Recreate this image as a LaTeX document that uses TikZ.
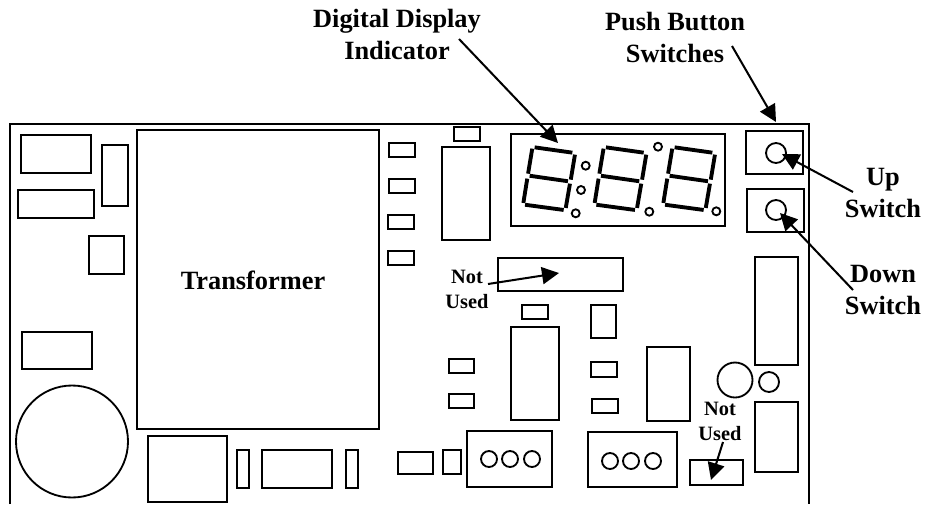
\documentclass[tikz,border=0pt]{standalone}
\usepackage{fontspec}
\setmainfont{Liberation Serif}
\usetikzlibrary{arrows.meta}

\tikzset{
  board/.style={line width=1.25pt},
  part/.style={line width=1.05pt},
  segment/.style={line width=2.2pt,shorten <=0.2pt,shorten >=0.2pt},
  pointer/.style={line width=1.15pt,-{Triangle[length=0.34cm,width=0.34cm]}},
  bigtext/.style={font=\bfseries\fontsize{15}{17.9}\selectfont,align=center,inner sep=0pt,anchor=base},
  smalltext/.style={font=\bfseries\fontsize{11.6}{13.8}\selectfont,align=center,inner sep=0pt,anchor=base}
}

\begin{document}
\begin{tikzpicture}[x=0.02cm,y=-0.02cm]
  \useasboundingbox (0,0) rectangle (925,504);

  \draw[board] (10,504) -- (10,124) -- (809,124) -- (809,504);

  % left side
  \draw[part] (21,135) rectangle (91,173);
  \draw[part] (102,145) rectangle (128,206);
  \draw[part] (18,190) rectangle (94,218);
  \draw[part] (89,236) rectangle (124,274);
  \draw[part] (22,332) rectangle (92,369);
  \draw[part] (72,441.5) circle (56);
  \draw[part] (137,130) rectangle (379,429);

  % bottom row
  \draw[part] (148,436) rectangle (227,502);
  \draw[part] (237,450) rectangle (249,488);
  \draw[part] (262,450) rectangle (332,488);
  \draw[part] (346,450) rectangle (358,488);
  \draw[part] (398,452) rectangle (433,474);
  \draw[part] (443,450) rectangle (461,474);

  % small parts beside the transformer
  \draw[part] (389,143) rectangle (415,157);
  \draw[part] (389,179) rectangle (415,193);
  \draw[part] (388,215) rectangle (414,229);
  \draw[part] (388,251) rectangle (414,265);
  \draw[part] (454,127) rectangle (480,141);
  \draw[part] (442,147) rectangle (490,240);

  % middle
  \draw[part] (498,258) rectangle (623,291);
  \draw[part] (522,305) rectangle (548,319);
  \draw[part] (591,305) rectangle (616,338);
  \draw[part] (449,359) rectangle (474,373);
  \draw[part] (449,394) rectangle (474,408);
  \draw[part] (511,327) rectangle (559,420);
  \draw[part] (591,362) rectangle (617,377);
  \draw[part] (592,399) rectangle (618,413);

  % connectors
  \draw[part] (467,431) rectangle (552,487);
  \draw[part] (489,459) circle (8);
  \draw[part] (510,459) circle (8);
  \draw[part] (532,459) circle (8);
  \draw[part] (588,432) rectangle (677,487);
  \draw[part] (610,461) circle (8);
  \draw[part] (631,461) circle (8);
  \draw[part] (653,461) circle (8);

  % right side
  \draw[part] (647,347) rectangle (690,421);
  \draw[part] (755,257) rectangle (798,365);
  \draw[part] (755,402) rectangle (798,472);
  \draw[part] (690,460) rectangle (743,485);
  \draw[part] (735,380) circle (17.5);
  \draw[part] (769,382) circle (10);

  % switches
  \draw[part] (746,131) rectangle (803,174);
  \draw[part] (747,189) rectangle (804,232);
  \draw[part] (776,153) circle (10);
  \draw[part] (776,210) circle (10);

  % display
  \draw[part] (511,134) rectangle (725,226);

  \draw[segment] (534.3,147.3) -- (572.7,152.7);
  \draw[segment] (532.3,148.3) -- (528,174);
  \draw[segment] (575,154.3) -- (570.7,180);
  \draw[segment] (529.3,175.7) -- (568.3,181.3);
  \draw[segment] (527.3,178.3) -- (523.3,203.3);
  \draw[segment] (570,183.3) -- (565.7,208.3);
  \draw[segment] (524.7,204.7) -- (564,210);

  \draw[segment] (605.6,147.3) -- (644,152.7);
  \draw[segment] (603.6,148.3) -- (599.3,174);
  \draw[segment] (646.3,154.3) -- (642,180);
  \draw[segment] (600.6,175.7) -- (639.6,181.3);
  \draw[segment] (598.6,178.3) -- (594.6,203.3);
  \draw[segment] (641.3,183.3) -- (637,208.3);
  \draw[segment] (596,204.7) -- (635.3,210);

  \draw[segment] (674.3,147.3) -- (712.7,152.7);
  \draw[segment] (672.3,148.3) -- (668,174);
  \draw[segment] (715,154.3) -- (710.7,180);
  \draw[segment] (669.3,175.7) -- (708.3,181.3);
  \draw[segment] (667.3,178.3) -- (663.3,203.3);
  \draw[segment] (710,183.3) -- (705.7,208.3);
  \draw[segment] (664.7,204.7) -- (704,210);

  \draw[part] (585.7,165.7) circle (4);
  \draw[part] (581,190) circle (4);
  \draw[part] (575.7,213.3) circle (4);
  \draw[part] (658,146.7) circle (4);
  \draw[part] (649.3,211.7) circle (4);
  \draw[part] (716.3,211.3) circle (4);

  % labels
  \node[bigtext] (lblTransformer) at (253,289) {Transformer};
  \node[bigtext] (lblDigital) at (397,59) {Digital Display\\Indicator};
  \node[bigtext] (lblPush) at (675,62) {Push Button\\Switches};
  \node[bigtext] (lblUp) at (883,217) {Up\\Switch};
  \node[bigtext] (lblDown) at (883,314) {Down\\Switch};
  \node[smalltext] (lblUnusedA) at (467,308) {Not\\Used};
  \node[smalltext] (lblUnusedB) at (720,440) {Not\\Used};

  \coordinate (tipDigital) at (558,143);
  \coordinate (tipPush) at (776,122);
  \coordinate (tipUp) at (782,154);
  \coordinate (tipDown) at (780,213);
  \coordinate (tipUnusedA) at (559,273);
  \coordinate (tipUnusedB) at (711,480);

  \draw[pointer] ([shift={(62,-20)}]lblDigital.base) -- (tipDigital);
  \draw[pointer] ([shift={(57,-16)}]lblPush.base) -- (tipPush);
  \draw[pointer] ([shift={(-30,-25)}]lblUp.base) -- (tipUp);
  \draw[pointer] ([shift={(-30,-24)}]lblDown.base) -- (tipDown);
  \draw[pointer] ([shift={(21,-24)}]lblUnusedA.base) -- (tipUnusedA);
  \draw[pointer] ([shift={(3,2)}]lblUnusedB.base) -- (tipUnusedB);
\end{tikzpicture}
\end{document}
